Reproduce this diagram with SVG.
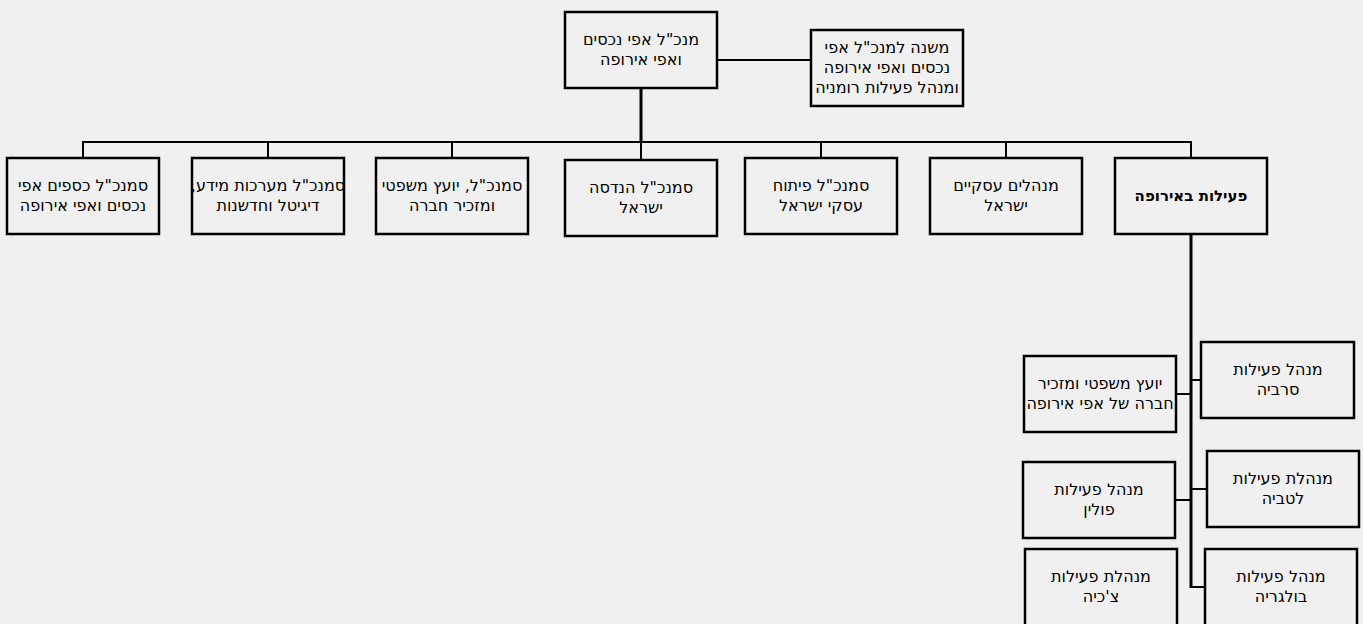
<svg xmlns="http://www.w3.org/2000/svg" width="1363" height="624" viewBox="0 0 1363 624">
<style>
.box{fill:#f0f0f0;stroke:#000;stroke-width:2.5}
.t{font-family:"DejaVu Sans","Noto Sans",sans-serif;font-size:16px;fill:#000;text-anchor:middle;direction:rtl}
.b{font-weight:bold;font-size:15px}
.c{fill:none;stroke:#000;stroke-width:2}
.ct{fill:none;stroke:#000;stroke-width:3}
</style>
<rect width="1363" height="624" fill="#f0f0f0"/>
<g id="connectors">
<line class="ct" x1="641" y1="88" x2="641" y2="143"/>
<line class="c" x1="717" y1="60" x2="811" y2="60"/>
<polyline class="c" points="83,158 83,142 1191,142 1191,158"/>
<line class="c" x1="268" y1="142" x2="268" y2="158"/>
<line class="c" x1="452" y1="142" x2="452" y2="158"/>
<line class="c" x1="641" y1="142" x2="641" y2="160"/>
<line class="c" x1="821" y1="142" x2="821" y2="158"/>
<line class="c" x1="1006" y1="142" x2="1006" y2="158"/>
<line class="ct" x1="1191" y1="234" x2="1191" y2="588"/>
<line class="c" x1="1191" y1="380" x2="1201" y2="380"/>
<line class="c" x1="1176" y1="394" x2="1191" y2="394"/>
<line class="c" x1="1191" y1="489" x2="1207" y2="489"/>
<line class="c" x1="1175" y1="500" x2="1191" y2="500"/>
<line class="c" x1="1190" y1="587" x2="1205" y2="587"/>
</g>
<g id="ceo">
<rect class="box" x="565" y="12" width="152" height="76"/>
<text class="t" x="641" y="45">מנכ"ל אפי נכסים</text>
<text class="t" x="641" y="65">ואפי אירופה</text>
</g>
<g id="deputy">
<rect class="box" x="811" y="30" width="152" height="76"/>
<text class="t" x="887" y="53">משנה למנכ"ל אפי</text>
<text class="t" x="887" y="73">נכסים ואפי אירופה</text>
<text class="t" x="887" y="93">ומנהל פעילות רומניה</text>
</g>
<g id="cfo">
<rect class="box" x="7" y="158" width="152" height="76"/>
<text class="t" x="83" y="191">סמנכ"ל כספים אפי</text>
<text class="t" x="83" y="211">נכסים ואפי אירופה</text>
</g>
<g id="cio">
<rect class="box" x="192" y="158" width="152" height="76"/>
<text class="t" x="268" y="191">סמנכ"ל מערכות מידע,</text>
<text class="t" x="268" y="211">דיגיטל וחדשנות</text>
</g>
<g id="legal">
<rect class="box" x="376" y="158" width="152" height="76"/>
<text class="t" x="452" y="191">סמנכ"ל, יועץ משפטי</text>
<text class="t" x="452" y="211">ומזכיר חברה</text>
</g>
<g id="engineering">
<rect class="box" x="565" y="160" width="152" height="76"/>
<text class="t" x="641" y="193">סמנכ"ל הנדסה</text>
<text class="t" x="641" y="213">ישראל</text>
</g>
<g id="bizdev">
<rect class="box" x="745" y="158" width="152" height="76"/>
<text class="t" x="821" y="191">סמנכ"ל פיתוח</text>
<text class="t" x="821" y="211">עסקי ישראל</text>
</g>
<g id="bizmanagers">
<rect class="box" x="930" y="158" width="152" height="76"/>
<text class="t" x="1006" y="191">מנהלים עסקיים</text>
<text class="t" x="1006" y="211">ישראל</text>
</g>
<g id="europe">
<rect class="box" x="1115" y="158" width="152" height="76"/>
<text class="t b" x="1191" y="201">פעילות באירופה</text>
</g>
<g id="serbia">
<rect class="box" x="1201" y="342" width="153" height="76"/>
<text class="t" x="1278" y="375">מנהל פעילות</text>
<text class="t" x="1278" y="395">סרביה</text>
</g>
<g id="eu-legal">
<rect class="box" x="1024" y="356" width="152" height="76"/>
<text class="t" x="1100" y="389">יועץ משפטי ומזכיר</text>
<text class="t" x="1100" y="409">חברה של אפי אירופה</text>
</g>
<g id="latvia">
<rect class="box" x="1207" y="451" width="152" height="76"/>
<text class="t" x="1283" y="484">מנהלת פעילות</text>
<text class="t" x="1283" y="504">לטביה</text>
</g>
<g id="poland">
<rect class="box" x="1023" y="462" width="152" height="76"/>
<text class="t" x="1099" y="495">מנהל פעילות</text>
<text class="t" x="1099" y="515">פולין</text>
</g>
<g id="bulgaria">
<rect class="box" x="1205" y="549" width="152" height="78"/>
<text class="t" x="1281" y="582">מנהל פעילות</text>
<text class="t" x="1281" y="602">בולגריה</text>
</g>
<g id="czech">
<rect class="box" x="1025" y="549" width="152" height="78"/>
<text class="t" x="1101" y="582">מנהלת פעילות</text>
<text class="t" x="1101" y="602">צ'כיה</text>
</g>
</svg>
